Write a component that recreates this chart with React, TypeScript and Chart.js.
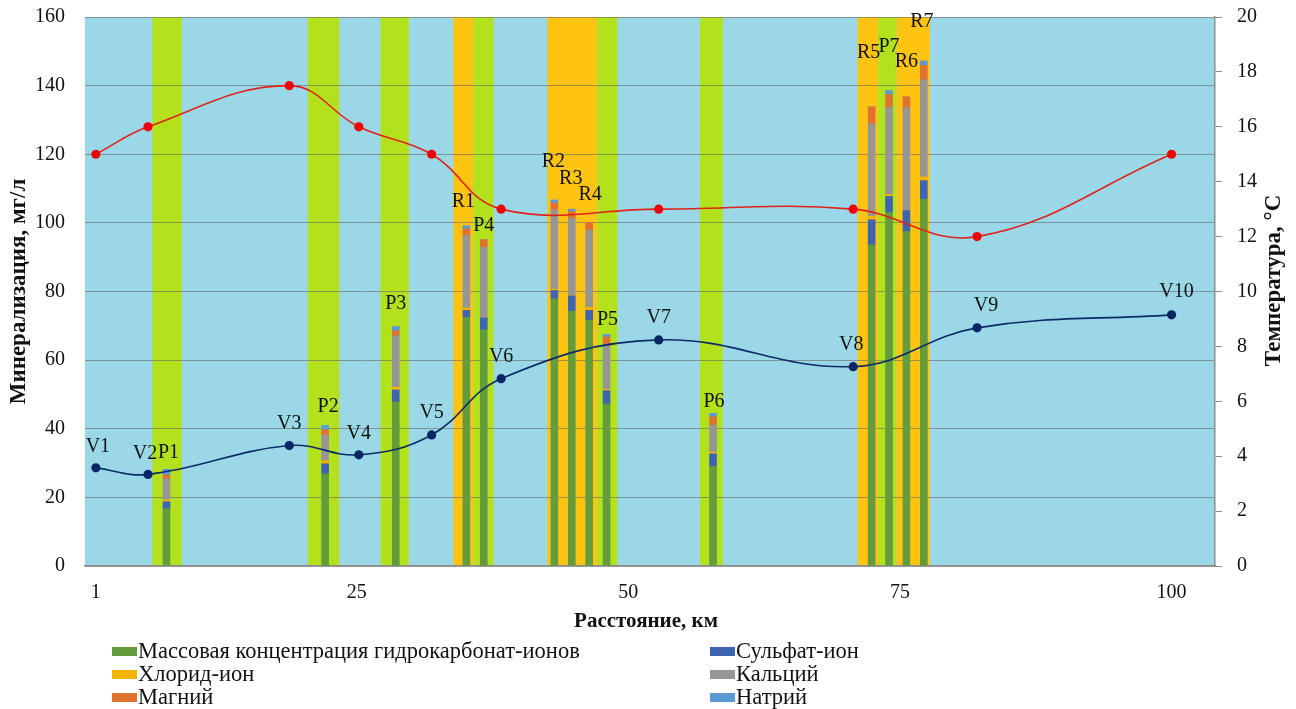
import React, { useEffect, useRef } from "react";
import { Chart, registerables } from "chart.js";

Chart.register(...registerables);

// ---------- data ----------
const xTickValues = [1, 25, 50, 75, 100];

const stationNames = ["V1", "V2", "V3", "V4", "V5", "V6", "V7", "V8", "V9", "V10"];
const stationKm = [1, 5.8, 18.8, 25.2, 31.9, 38.3, 52.8, 70.7, 82.1, 100];
const stationMineralization = [28.6, 26.7, 35.1, 32.4, 38.2, 54.6, 65.9, 58.1, 69.4, 73.2];
const stationTemperature = [15, 16, 17.5, 16, 15, 13, 13, 13, 12, 15];

const sampleNames = ["P1", "P2", "P3", "R1", "P4", "R2", "R3", "R4", "P5", "P6", "R5", "P7", "R6", "R7"];
const sampleKm = [7.5, 22.1, 28.6, 35.1, 36.7, 43.2, 44.8, 46.4, 48.0, 57.8, 72.4, 74.0, 75.6, 77.2];
const bicarbonate = [16.7, 26.8, 47.8, 72.5, 68.8, 77.9, 74.3, 71.7, 47.2, 29.0, 93.6, 103.0, 97.5, 106.9];
const sulfate = [2.0, 3.0, 3.5, 2.0, 3.5, 2.4, 4.4, 2.8, 3.9, 3.7, 7.3, 4.7, 6.1, 5.4];
const chloride = [0.6, 0.9, 0.8, 0.7, 0, 0.4, 0, 0.9, 0.4, 0.5, 1.0, 0.5, 0, 1.1];
const calcium = [6.1, 7.4, 15.0, 21.1, 20.6, 23.1, 22.7, 22.4, 12.7, 7.9, 27.0, 25.5, 29.9, 28.3];
const magnesium = [1.1, 1.6, 1.4, 1.9, 2.2, 2.0, 1.9, 2.3, 2.5, 2.4, 4.9, 3.7, 3.2, 4.2];
const sodium = [1.7, 1.3, 1.3, 1.0, 0, 0.9, 0.7, 0, 0.8, 1.0, 0, 1.2, 0, 1.3];

const bandStartKm = [6.2, 20.5, 27.2, 33.9, 35.75, 42.55, 47.15, 56.6, 71.1, 73.0, 74.7];
const bandEndKm = [8.9, 23.4, 29.8, 35.75, 37.6, 47.15, 49.0, 58.7, 73.0, 74.7, 77.75];
const bandKind = ["P", "P", "P", "R", "P", "R", "P", "P", "R", "P", "R"];

const seriesNames = [
  "Массовая концентрация гидрокарбонат-ионов",
  "Сульфат-ион",
  "Хлорид-ион",
  "Кальций",
  "Магний",
  "Натрий",
];
const seriesValues = [bicarbonate, sulfate, chloride, calcium, magnesium, sodium];

const yLeftTitle = "Минерализация, мг/л";
const yRightTitle = "Температура, °C";
const xTitle = "Расстояние, км";

// ---------- styles ----------
const FONT = '"Liberation Serif", "Times New Roman", serif';
const seriesColors = ["#649B3C", "#3D64B0", "#F2B400", "#969696", "#E0722F", "#5B9BD5"];
const PLOT_BG = "#9AD8E8";
const BAND_P = "#B3E21C";
const BAND_R = "#FFC412";
const GRID = "rgba(105,105,105,0.6)";

// label offsets (pixels) relative to their anchor point
const labelShift: Record<string, [number, number]> = {
  V1: [2, -21], V2: [-3, -21], V3: [0, -22], V4: [0, -21], V5: [0, -22],
  V6: [0, -22], V7: [0, -22], V8: [-2, -22], V9: [9, -22], V10: [5, -23],
  P1: [2, -16], P2: [3, -19], P3: [0, -23], R1: [-3, -24], P4: [0, -14],
  R2: [-1, -38], R3: [-1, -30], R4: [1, -28], P5: [1, -15], P6: [1, -12],
  R5: [-3, -54], P7: [0, -44], R6: [0, -35], R7: [-2, -39],
};

const bandsPlugin = {
  id: "bands",
  beforeDraw(chart: any) {
    const { ctx, chartArea: a, scales } = chart;
    const x = scales.x;
    ctx.save();
    ctx.fillStyle = PLOT_BG;
    ctx.fillRect(a.left, a.top, a.right - a.left, a.bottom - a.top);
    bandStartKm.forEach((s, i) => {
      const x0 = x.getPixelForValue(s);
      const x1 = x.getPixelForValue(bandEndKm[i]);
      ctx.fillStyle = bandKind[i] === "R" ? BAND_R : BAND_P;
      ctx.fillRect(x0, a.top, x1 - x0, a.bottom - a.top);
    });
    ctx.restore();
  },
};

const labelsPlugin = {
  id: "pointLabels",
  afterDatasetsDraw(chart: any) {
    const { ctx, scales } = chart;
    const x = scales.x;
    const y = scales.y;
    ctx.save();
    ctx.font = `20px ${FONT}`;
    ctx.fillStyle = "#111";
    ctx.textAlign = "center";
    ctx.textBaseline = "middle";
    stationNames.forEach((n, i) => {
      const [dx, dy] = labelShift[n] || [0, -22];
      ctx.fillText(n, x.getPixelForValue(stationKm[i]) + dx, y.getPixelForValue(stationMineralization[i]) + dy);
    });
    sampleNames.forEach((n, i) => {
      const total = seriesValues.reduce((s, arr) => s + arr[i], 0);
      const [dx, dy] = labelShift[n] || [0, -20];
      ctx.fillText(n, x.getPixelForValue(sampleKm[i]) + dx, y.getPixelForValue(total) + dy);
    });
    ctx.restore();
  },
};

const titlesPlugin = {
  id: "axisTitles",
  afterDraw(chart: any) {
    const { ctx, chartArea: a } = chart;
    const cy = (a.top + a.bottom) / 2;
    ctx.save();
    ctx.fillStyle = "#111";
    ctx.textAlign = "center";
    ctx.textBaseline = "middle";
    ctx.font = `bold 23px ${FONT}`;
    ctx.save();
    ctx.translate(19, cy);
    ctx.rotate(-Math.PI / 2);
    ctx.fillText(yLeftTitle, 0, 0);
    ctx.restore();
    ctx.save();
    ctx.translate(1274, cy - 11);
    ctx.rotate(-Math.PI / 2);
    ctx.fillText(yRightTitle, 0, 0);
    ctx.restore();
    ctx.font = `bold 21px ${FONT}`;
    ctx.fillText(xTitle, (a.left + a.right) / 2 - 4, 622);
    ctx.restore();
  },
};

const noPad = (s: any) => {
  s.paddingTop = 0;
  s.paddingBottom = 0;
};

export default function App() {
  const ref = useRef<HTMLCanvasElement>(null);

  useEffect(() => {
    const canvas = ref.current!;
    Chart.defaults.font.family = FONT;
    const barSets = seriesNames.map((name, k) => ({
      type: "bar" as const,
      label: name,
      data: sampleKm.map((km, i) => ({ x: km, y: seriesValues[k][i] })),
      backgroundColor: seriesColors[k],
      borderWidth: 0,
      barThickness: 7,
      stack: "ions",
      yAxisID: "y",
      order: 1,
    }));
    const chart = new Chart(canvas, {
      type: "bar",
      data: {
        datasets: [
          {
            type: "line" as const,
            label: "Температура",
            data: stationKm.map((km, i) => ({ x: km, y: stationTemperature[i] })),
            borderColor: "#E0231C",
            backgroundColor: "#F00000",
            borderWidth: 1.6,
            pointRadius: 4.6,
            pointBorderWidth: 0,
            tension: 0.4,
            yAxisID: "yT",
            order: 0,
          },
          {
            type: "line" as const,
            label: "Минерализация",
            data: stationKm.map((km, i) => ({ x: km, y: stationMineralization[i] })),
            borderColor: "#0D2B69",
            backgroundColor: "#0A2566",
            borderWidth: 1.6,
            pointRadius: 4.6,
            pointBorderWidth: 0,
            tension: 0.4,
            yAxisID: "yM",
            order: 0,
          },
          ...barSets,
        ] as any,
      },
      options: {
        responsive: false,
        animation: false,
        layout: { padding: { top: 17, bottom: 73, left: 0, right: 0 } },
        plugins: { legend: { display: false }, tooltip: { enabled: false } },
        scales: {
          x: {
            type: "linear",
            min: 0,
            max: 104,
            offset: false,
            afterBuildTicks: (s: any) => {
              s.ticks = xTickValues.map((v) => ({ value: v }));
            },
            afterFit: (s: any) => {
              s.height = 70;
              s.paddingLeft = 0;
              s.paddingRight = 0;
            },
            grid: { display: false, drawTicks: false, offset: false },
            border: { display: true, color: "#8C8C8C", width: 1.5 },
            ticks: { font: { size: 20, family: FONT }, color: "#111", padding: 15, maxRotation: 0, autoSkip: false },
          },
          y: {
            type: "linear",
            position: "left",
            min: 0,
            max: 160,
            stacked: true,
            afterFit: (s: any) => {
              s.width = 85;
              noPad(s);
            },
            grid: { color: GRID, lineWidth: 1, drawTicks: false },
            border: { display: false },
            ticks: { stepSize: 20, font: { size: 20, family: FONT }, color: "#111", padding: 20 },
          },
          yM: {
            type: "linear",
            position: "left",
            min: 0,
            max: 160,
            display: false,
          },
          yT: {
            type: "linear",
            position: "right",
            min: 0,
            max: 20,
            afterFit: (s: any) => {
              s.width = 81;
              noPad(s);
            },
            grid: { drawOnChartArea: false, drawTicks: true, tickLength: 7, color: "#8C8C8C" },
            border: { display: true, color: "#8C8C8C", width: 1.5 },
            ticks: { stepSize: 2, font: { size: 20, family: FONT }, color: "#111", padding: 15 },
          },
        },
      } as any,
      plugins: [bandsPlugin, labelsPlugin, titlesPlugin],
    });
    return () => chart.destroy();
  }, []);

  const legendRows = [0, 1, 2];
  return (
    <div style={{ position: "absolute", left: 0, top: 0, width: 1296, height: 709, background: "#fff", overflow: "hidden" }}>
      <canvas ref={ref} width={1296} height={709} style={{ width: 1296, height: 709, display: "block" }} />
      {legendRows.map((r) =>
        [0, 1].map((c) => {
          const k = r * 2 + c;
          return (
            <div
              key={k}
              style={{
                position: "absolute",
                left: c === 0 ? 112 : 710,
                top: 651 + r * 23 - 12,
                height: 24,
                display: "flex",
                alignItems: "center",
                fontFamily: FONT,
                fontSize: 22.5,
                color: "#111",
                whiteSpace: "nowrap",
                lineHeight: "24px",
              }}
            >
              <span style={{ display: "inline-block", width: 25, height: 9, background: seriesColors[k], marginRight: 1 }} />
              <span>{seriesNames[k]}</span>
            </div>
          );
        })
      )}
    </div>
  );
}
